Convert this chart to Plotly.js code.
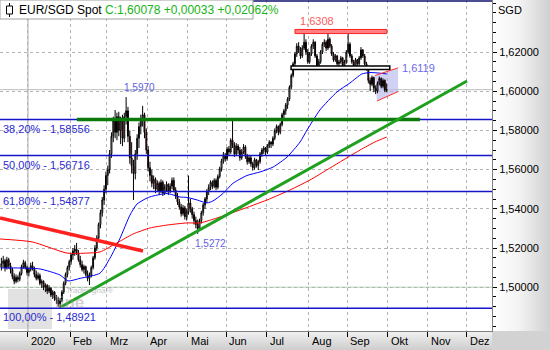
<!DOCTYPE html>
<html><head><meta charset="utf-8">
<script src="https://cdn.plot.ly/plotly-3.0.1.min.js"></script>
<style>
html,body{margin:0;padding:0;background:#fff;}
#wrap{position:relative;width:550px;height:350px;overflow:hidden;}
#rbg{position:absolute;left:492px;top:0;width:58px;height:331px;background:linear-gradient(to right,#ffffff 0%,#f4f4f4 45%,#d0d0d0 100%);}
#bbg{position:absolute;left:0;top:331px;width:550px;height:19px;background:linear-gradient(to bottom,#f2f2f2,#cdcdcd);}
#cbg{position:absolute;left:492px;top:331px;width:58px;height:19px;background:#d2d2d2;}
#chart{position:absolute;left:0;top:0;width:550px;height:350px;}
</style></head>
<body>
<div id="wrap"><div id="rbg"></div><div id="bbg"></div><div id="cbg"></div><div id="chart"></div></div>
<script>
// ---------- DATA ----------
const titleText = 'EUR/SGD Spot';
const titleQuote = 'C:1,60078 +0,00033 +0,02062%';
const firstIdx = -15; // trading-day index of first candle (0 = 1 Jan 2020)
const open = [
1.5100,1.5120,1.5135,1.5100,1.5140,1.5110,1.5090,1.5055,1.5030,1.5050,1.5040,1.5070,1.5105,1.5125,1.5100,
1.5075,1.5090,1.5110,1.5095,1.5065,1.5045,1.5060,1.5020,1.5030,1.5000,
1.5010,1.4980,1.4995,1.4960,1.4975,1.4945,1.4935,1.4915,1.4930,1.4975,
1.5020,1.5065,1.5100,1.5130,1.5165,1.5185,1.5195,1.5175,1.5140,1.5115,
1.5090,1.5105,1.5065,1.5045,1.5060,1.5100,1.5150,1.5200,1.5250,1.5320,
1.5380,1.5445,1.5500,1.5570,1.5600,1.5680,1.5770,1.5850,1.5790,1.5870,
1.5800,1.5850,1.5760,1.5870,1.5900,1.5770,1.5660,1.5620,1.5580,1.5680,
1.5760,1.5820,1.5860,1.5880,1.5790,1.5700,1.5610,1.5570,1.5530,1.5550,
1.5500,1.5530,1.5490,1.5535,1.5480,1.5510,1.5525,1.5490,1.5515,1.5545,
1.5495,1.5465,1.5435,1.5410,1.5375,1.5405,1.5360,1.5385,1.5430,1.5400,
1.5370,1.5340,1.5320,1.5300,1.5340,1.5380,1.5420,1.5450,1.5490,1.5510,
1.5535,1.5515,1.5545,1.5510,1.5565,1.5605,1.5645,1.5675,1.5655,1.5705,
1.5690,1.5750,1.5725,1.5680,1.5720,1.5700,1.5660,1.5690,1.5715,1.5670,
1.5640,1.5660,1.5630,1.5610,1.5650,1.5620,1.5640,1.5680,1.5700,1.5710,
1.5690,1.5720,1.5740,1.5730,1.5760,1.5800,1.5820,1.5790,1.5830,1.5880,
1.5900,1.5930,1.5960,1.6020,1.6080,1.6140,1.6190,1.6230,1.6210,1.6180,
1.6220,1.6250,1.6200,1.6150,1.6190,1.6230,1.6250,1.6180,1.6130,1.6150,
1.6200,1.6240,1.6250,1.6220,1.6265,1.6230,1.6190,1.6160,1.6180,1.6140,
1.6150,1.6170,1.6130,1.6150,1.6200,1.6240,1.6180,1.6150,1.6130,1.6160,
1.6140,1.6170,1.6210,1.6180,1.6140,1.6120,1.6055,1.6035,1.6070,1.6015,
1.6000,1.6040,1.6065,1.6025,1.6055,1.6005];
const high = [
1.5150,1.5160,1.5145,1.5155,1.5150,1.5125,1.5100,1.5070,1.5065,1.5060,1.5080,1.5115,1.5140,1.5135,1.5110,
1.5100,1.5125,1.5130,1.5105,1.5085,1.5075,1.5070,1.5040,1.5035,1.5020,
1.5015,1.5010,1.5000,1.4985,1.4980,1.4960,1.4950,1.4945,1.4985,1.5030,
1.5075,1.5110,1.5140,1.5175,1.5200,1.5215,1.5226,1.5190,1.5160,1.5135,
1.5115,1.5110,1.5085,1.5075,1.5110,1.5160,1.5215,1.5265,1.5330,1.5395,
1.5460,1.5520,1.5590,1.5620,1.5700,1.5790,1.5870,1.5904,1.5890,1.5895,
1.5870,1.5880,1.5890,1.5970,1.5920,1.5800,1.5740,1.5650,1.5700,1.5780,
1.5840,1.5880,1.5925,1.5890,1.5810,1.5720,1.5640,1.5600,1.5570,1.5560,
1.5545,1.5540,1.5550,1.5545,1.5525,1.5540,1.5530,1.5530,1.5560,1.5560,
1.5510,1.5480,1.5450,1.5425,1.5420,1.5415,1.5400,1.5570,1.5450,1.5410,
1.5385,1.5360,1.5345,1.5350,1.5390,1.5430,1.5460,1.5500,1.5525,1.5545,
1.5545,1.5555,1.5555,1.5575,1.5615,1.5655,1.5690,1.5685,1.5715,1.5720,
1.5760,1.5860,1.5740,1.5735,1.5730,1.5715,1.5705,1.5730,1.5725,1.5680,
1.5675,1.5670,1.5640,1.5660,1.5655,1.5650,1.5690,1.5710,1.5720,1.5715,
1.5730,1.5750,1.5745,1.5770,1.5810,1.5830,1.5825,1.5840,1.5890,1.5910,
1.5940,1.5970,1.6030,1.6090,1.6150,1.6200,1.6245,1.6250,1.6225,1.6235,
1.6297,1.6265,1.6215,1.6200,1.6240,1.6265,1.6255,1.6190,1.6165,1.6210,
1.6250,1.6265,1.6260,1.6308,1.6275,1.6240,1.6200,1.6190,1.6185,1.6160,
1.6180,1.6175,1.6160,1.6210,1.6297,1.6250,1.6190,1.6160,1.6170,1.6165,
1.6180,1.6225,1.6215,1.6190,1.6150,1.6125,1.6070,1.6080,1.6075,1.6030,
1.6050,1.6075,1.6070,1.6065,1.6060,1.6040];
const low = [
1.5085,1.5100,1.5080,1.5090,1.5095,1.5070,1.5040,1.5015,1.5020,1.5025,1.5030,1.5060,1.5095,1.5090,1.5060,
1.5055,1.5080,1.5085,1.5050,1.5035,1.5035,1.5010,1.4995,1.4985,1.4975,
1.4965,1.4970,1.4950,1.4940,1.4930,1.4915,1.4900,1.4892,1.4925,1.4965,
1.5010,1.5050,1.5085,1.5115,1.5140,1.5160,1.5165,1.5130,1.5100,1.5080,
1.5070,1.5055,1.5030,1.5011,1.5050,1.5090,1.5140,1.5185,1.5240,1.5300,
1.5360,1.5420,1.5480,1.5520,1.5580,1.5660,1.5740,1.5760,1.5750,1.5770,
1.5730,1.5720,1.5740,1.5830,1.5740,1.5630,1.5580,1.5445,1.5550,1.5650,
1.5710,1.5780,1.5820,1.5760,1.5680,1.5590,1.5540,1.5510,1.5500,1.5480,
1.5490,1.5470,1.5480,1.5465,1.5470,1.5485,1.5470,1.5480,1.5500,1.5485,
1.5450,1.5420,1.5395,1.5360,1.5365,1.5345,1.5340,1.5370,1.5380,1.5350,
1.5320,1.5300,1.5272,1.5290,1.5325,1.5365,1.5400,1.5430,1.5470,1.5495,
1.5500,1.5505,1.5495,1.5500,1.5555,1.5590,1.5630,1.5640,1.5645,1.5670,
1.5680,1.5710,1.5665,1.5670,1.5680,1.5645,1.5650,1.5680,1.5655,1.5625,
1.5630,1.5615,1.5595,1.5600,1.5610,1.5598,1.5630,1.5665,1.5680,1.5670,
1.5680,1.5710,1.5710,1.5720,1.5750,1.5785,1.5775,1.5780,1.5820,1.5860,
1.5880,1.5910,1.5950,1.6010,1.6070,1.6120,1.6175,1.6195,1.6165,1.6170,
1.6210,1.6185,1.6140,1.6140,1.6180,1.6215,1.6170,1.6115,1.6120,1.6140,
1.6190,1.6225,1.6205,1.6210,1.6220,1.6180,1.6150,1.6150,1.6130,1.6125,
1.6140,1.6120,1.6115,1.6140,1.6190,1.6170,1.6140,1.6115,1.6120,1.6125,
1.6130,1.6160,1.6170,1.6130,1.6105,1.6040,1.6000,1.6025,1.5995,1.5985,
1.5990,1.6030,1.6015,1.6015,1.5995,1.5995];
const close = [
1.5120,1.5135,1.5100,1.5140,1.5110,1.5090,1.5055,1.5030,1.5050,1.5040,1.5070,1.5105,1.5125,1.5100,1.5075,
1.5090,1.5110,1.5095,1.5065,1.5045,1.5060,1.5020,1.5030,1.5000,1.5010,
1.4980,1.4995,1.4960,1.4975,1.4945,1.4935,1.4915,1.4930,1.4975,1.5020,
1.5065,1.5100,1.5130,1.5165,1.5185,1.5195,1.5175,1.5140,1.5115,1.5090,
1.5105,1.5065,1.5045,1.5060,1.5100,1.5150,1.5200,1.5250,1.5320,1.5380,
1.5445,1.5500,1.5570,1.5600,1.5680,1.5770,1.5850,1.5790,1.5870,1.5800,
1.5850,1.5760,1.5870,1.5900,1.5770,1.5660,1.5620,1.5580,1.5680,1.5760,
1.5820,1.5860,1.5880,1.5790,1.5700,1.5610,1.5570,1.5530,1.5550,1.5500,
1.5530,1.5490,1.5535,1.5480,1.5510,1.5525,1.5490,1.5515,1.5545,1.5495,
1.5465,1.5435,1.5410,1.5375,1.5405,1.5360,1.5385,1.5430,1.5400,1.5370,
1.5340,1.5320,1.5300,1.5340,1.5380,1.5420,1.5450,1.5490,1.5510,1.5535,
1.5515,1.5545,1.5510,1.5565,1.5605,1.5645,1.5675,1.5655,1.5705,1.5690,
1.5750,1.5725,1.5680,1.5720,1.5700,1.5660,1.5690,1.5715,1.5670,1.5640,
1.5660,1.5630,1.5610,1.5650,1.5620,1.5640,1.5680,1.5700,1.5710,1.5690,
1.5720,1.5740,1.5730,1.5760,1.5800,1.5820,1.5790,1.5830,1.5880,1.5900,
1.5930,1.5960,1.6020,1.6080,1.6140,1.6190,1.6230,1.6210,1.6180,1.6220,
1.6250,1.6200,1.6150,1.6190,1.6230,1.6250,1.6180,1.6130,1.6150,1.6200,
1.6240,1.6250,1.6220,1.6265,1.6230,1.6190,1.6160,1.6180,1.6140,1.6150,
1.6170,1.6130,1.6150,1.6200,1.6240,1.6180,1.6150,1.6130,1.6160,1.6140,
1.6170,1.6210,1.6180,1.6140,1.6120,1.6055,1.6035,1.6070,1.6015,1.6000,
1.6040,1.6065,1.6025,1.6055,1.6005,1.6008];

// moving averages (trading-day index, value)
const blueMaIdx = [-15.2,-4.8,6.1,17.0,21.3,27.9,38.8,44.2,49.7,55.1,58.9,64.4,67.6,75.3,82.4,86.2,91.7,97.1,100.3,105.8,111.2,118.9,126.0,133.1,140.7,147.8,151.6,158.6,167.9,175.0,181.5,185.9,191.4,195.0];
const blueMaVal = [1.5098,1.5098,1.5093,1.5062,1.5032,1.5045,1.5072,1.5148,1.5250,1.5368,1.5424,1.5455,1.5465,1.5478,1.5460,1.5458,1.5445,1.5430,1.5440,1.5478,1.5530,1.5570,1.5588,1.5613,1.5664,1.5741,1.5802,1.5904,1.5996,1.6042,1.6088,1.6095,1.6092,1.6088];
const redMaIdx = [-15.7,1.8,20.8,31.7,38.8,48.0,56.7,66.0,75.3,86.2,93.3,104.1,115.1,129.8,142.3,153.2,164.1,180.5,188.6,195.0];
const redMaVal = [1.5246,1.5231,1.5174,1.5174,1.5180,1.5226,1.5271,1.5302,1.5317,1.5328,1.5328,1.5358,1.5394,1.5445,1.5496,1.5547,1.5608,1.5700,1.5741,1.5766];

// month starts (trading-day index) and labels
const monthIdx = [0,23,43,65,87,108,130,153,174,196,218,239];
const monthLabels = ['2020','Feb','Mrz','Apr','Mai','Jun','Jul','Aug','Sep','Okt','Nov','Dez'];
const yTicks = [1.50,1.52,1.54,1.56,1.58,1.60,1.62];

// Fibonacci retracements
const fibPct = [38.2, 50, 61.8, 100];
const fibLevel = [1.58556, 1.56716, 1.54877, 1.48921];

// drawn analysis objects (data coordinates)
const trendRedX = [-15.74, 62.2], trendRedY = [1.5353, 1.5185];
const trendGreenX = [17.5, 238.8], trendGreenY = [1.4899, 1.6052];
const supportGreenX = [26.2, 213.1], supportGreenY = 1.58556;
const resistBoxX = [145.0, 195.1], resistBoxY = [1.6294, 1.6315];
const supportBoxX = [142.9, 196.7], supportBoxY = [1.6111, 1.6129];
const flagUpperX = [188.6, 201.2], flagUpperY = [1.6080, 1.6119];
const flagLowerX = [189.7, 201.2], flagLowerY = [1.5950, 1.5998];
const markHighIdx = 53, markLowIdx = 92;
const lastPrice = 1.60078;
const baseLine = 1.50;

// ---------- DRAW ----------
const FONT = '"Liberation Sans", Arial, sans-serif';
const xs = close.map((_, i) => firstIdx + i);
const comma = (v, d) => v.toFixed(d).replace('.', ',');
const PW = 492, PH = 331;
const px = x => x / PW, py = y => 1 - y / PH;

const traces = [
  {type:'candlestick', x:xs, open:open, high:high, low:low, close:close,
   increasing:{line:{color:'#000000', width:1}, fillcolor:'#ffffff'},
   decreasing:{line:{color:'#000000', width:1}, fillcolor:'#ff0000'},
   whiskerwidth:0, hoverinfo:'skip', showlegend:false},
  {type:'scatter', mode:'lines', x:blueMaIdx, y:blueMaVal, line:{color:'#0000ff', width:1, shape:'spline', smoothing:0.6}, hoverinfo:'skip'},
  {type:'scatter', mode:'lines', x:redMaIdx, y:redMaVal, line:{color:'#ff0000', width:1, shape:'spline', smoothing:0.6}, hoverinfo:'skip'}
];

const shapes = [];
// watermark
shapes.push({type:'rect', xref:'paper', yref:'paper', x0:px(8), x1:px(52), y0:py(329), y1:py(289), fillcolor:'rgba(150,150,150,0.28)', line:{width:0}, layer:'below'});
// year separator
shapes.push({type:'line', xref:'x', yref:'paper', x0:monthIdx[0]-0.5, x1:monthIdx[0]-0.5, y0:0, y1:1, line:{color:'#a8a8a8', width:1}, layer:'below'});
// base line 1.50 and last price line
shapes.push({type:'line', xref:'paper', yref:'y', x0:0, x1:1, y0:baseLine, y1:baseLine, line:{color:'#b0d4b0', width:1}, layer:'below'});
shapes.push({type:'line', xref:'paper', yref:'y', x0:0, x1:1, y0:lastPrice, y1:lastPrice, line:{color:'#b8c0b8', width:1}, layer:'below'});
// flag fill
shapes.push({type:'path', xref:'x', yref:'y', layer:'below',
  path:`M ${flagUpperX[0]},${flagUpperY[0]} L ${flagUpperX[1]},${flagUpperY[1]} L ${flagLowerX[1]},${flagLowerY[1]} L ${flagLowerX[0]},${flagLowerY[0]} Z`,
  fillcolor:'rgba(185,185,240,0.65)', line:{width:0}});
// fib lines
fibLevel.forEach(v => shapes.push({type:'line', xref:'paper', yref:'y', x0:0, x1:1, y0:v, y1:v, line:{color:'#1414c8', width:1.5}}));
// support green horizontal
shapes.push({type:'line', xref:'x', yref:'y', x0:supportGreenX[0], x1:supportGreenX[1], y0:supportGreenY, y1:supportGreenY, line:{color:'#0a7a0a', width:3.5}});
// trend lines
shapes.push({type:'line', xref:'x', yref:'y', x0:trendRedX[0], x1:trendRedX[1], y0:trendRedY[0], y1:trendRedY[1], line:{color:'#ff2020', width:3.5}});
shapes.push({type:'line', xref:'x', yref:'y', x0:trendGreenX[0], x1:trendGreenX[1], y0:trendGreenY[0], y1:trendGreenY[1], line:{color:'#20a020', width:3}});
// boxes
shapes.push({type:'rect', xref:'x', yref:'y', x0:resistBoxX[0], x1:resistBoxX[1], y0:resistBoxY[0], y1:resistBoxY[1], fillcolor:'#ff8080', line:{color:'#ff2020', width:1}});
shapes.push({type:'rect', xref:'x', yref:'y', x0:supportBoxX[0], x1:supportBoxX[1], y0:supportBoxY[0], y1:supportBoxY[1], fillcolor:'#ffffff', line:{color:'#000000', width:1.5}});
// flag edges
shapes.push({type:'line', xref:'x', yref:'y', x0:flagUpperX[0], x1:flagUpperX[1], y0:flagUpperY[0], y1:flagUpperY[1], line:{color:'#ff3030', width:1}});
shapes.push({type:'line', xref:'x', yref:'y', x0:flagLowerX[0], x1:flagLowerX[1], y0:flagLowerY[0], y1:flagLowerY[1], line:{color:'#ff3030', width:1}});
// top border
shapes.push({type:'line', xref:'paper', yref:'paper', x0:0, x1:1, y0:py(1), y1:py(1), line:{color:'#10106e', width:1.5}});
// title box + icon
shapes.push({type:'rect', xref:'paper', yref:'paper', x0:px(0), x1:px(253), y0:py(19), y1:py(0), fillcolor:'#ffffff', line:{color:'#a0a0a0', width:1}});
shapes.push({type:'line', xref:'paper', yref:'paper', x0:px(9.5), x1:px(9.5), y0:py(17), y1:py(3), line:{color:'#000', width:1}});
shapes.push({type:'rect', xref:'paper', yref:'paper', x0:px(6.5), x1:px(12.5), y0:py(14), y1:py(6), fillcolor:'#ffffff', line:{color:'#000', width:1}});

const annotations = [];
// watermark texts (faint logo, kept clear of the 100% label)
annotations.push({xref:'paper', yref:'paper', x:px(53), y:py(302), xanchor:'left', yanchor:'middle', text:'<b>line</b>', showarrow:false, font:{family:FONT, size:17, color:'rgba(150,150,150,0.45)'}});
annotations.push({xref:'paper', yref:'paper', x:px(64), y:py(290), xanchor:'left', yanchor:'middle', text:'<i>Tradesignal®</i>', showarrow:false, font:{family:FONT, size:8, color:'rgba(150,150,150,0.6)'}});
// fib labels
fibLevel.forEach((v, i) => annotations.push({xref:'paper', yref:'y', x:px(1), y:v, xanchor:'left', yanchor:'top', yshift:-1,
  text: comma(fibPct[i], 2) + '% - ' + comma(v, 5), showarrow:false, font:{family:FONT, size:11, color:'#2a2ad2'}}));
// price marks
annotations.push({xref:'x', yref:'y', x:markHighIdx, y:high[markHighIdx-firstIdx], xanchor:'left', yanchor:'bottom', xshift:-4, yshift:2,
  text: comma(high[markHighIdx-firstIdx], 4), showarrow:false, font:{family:FONT, size:10, color:'#6060e6'}});
annotations.push({xref:'x', yref:'y', x:markLowIdx, y:low[markLowIdx-firstIdx], xanchor:'left', yanchor:'top', xshift:-5, yshift:-2,
  text: comma(low[markLowIdx-firstIdx], 4), showarrow:false, font:{family:FONT, size:10, color:'#6060e6'}});
annotations.push({xref:'x', yref:'y', x:flagUpperX[1], y:flagUpperY[1], xanchor:'left', yanchor:'middle', xshift:2,
  text: comma(flagUpperY[1], 4), showarrow:false, font:{family:FONT, size:11, color:'#6a6ae8'}});
const maxHigh = Math.max(...high);
annotations.push({xref:'x', yref:'y', x:resistBoxX[0], y:resistBoxY[1], xanchor:'left', yanchor:'bottom', xshift:3, yshift:0,
  text: comma(maxHigh, 4), showarrow:false, font:{family:FONT, size:11, color:'#ff5a5a'}});
// month labels
monthIdx.forEach((m, i) => annotations.push({xref:'x', yref:'paper', x:m-0.5, y:py(341), xanchor:'left', yanchor:'middle', xshift:1,
  text: monthLabels[i], showarrow:false, font:{family:FONT, size:11, color:'#000'}}));
// currency
annotations.push({xref:'paper', yref:'paper', x:px(496), y:py(10), xanchor:'left', yanchor:'middle', text:'SGD', showarrow:false, font:{family:FONT, size:11, color:'#000'}});
// title
annotations.push({xref:'paper', yref:'paper', x:px(17), y:py(10), xanchor:'left', yanchor:'middle', showarrow:false,
  text: titleText + ' <span style="color:#14b414">' + titleQuote + '</span>', font:{family:FONT, size:12, color:'#000'}});

const layout = {
  width:550, height:350,
  margin:{l:0, r:58, t:0, b:19, pad:0},
  paper_bgcolor:'rgba(0,0,0,0)', plot_bgcolor:'#ffffff',
  separators:',.', showlegend:false,
  font:{family:FONT, size:11, color:'#000'},
  xaxis:{range:[-15.74, 252.4], tickmode:'array', tickvals:monthIdx.map(m => m-0.5), showticklabels:false,
    ticks:'outside', ticklen:5, tickcolor:'#000', tickwidth:1,
    showgrid:true, gridcolor:'#b4b4b4', griddash:'dot', gridwidth:1, zeroline:false,
    showline:true, linecolor:'#808080', linewidth:1, mirror:true, rangeslider:{visible:false}, fixedrange:true},
  yaxis:{side:'right', range:[1.47765, 1.64653], tickmode:'array', tickvals:yTicks, ticktext:yTicks.map(v => comma(v, 5)),
    ticks:'outside', ticklen:4, tickcolor:'#000', tickwidth:1,
    minor:{tickmode:'linear', tick0:1.50, dtick:0.005, ticks:'outside', ticklen:3, tickcolor:'#000', showgrid:false},
    showgrid:true, gridcolor:'#b4b4b4', griddash:'dot', gridwidth:1, zeroline:false,
    showline:true, linecolor:'#808080', linewidth:1, mirror:true, tickfont:{family:FONT, size:11, color:'#000'}, fixedrange:true},
  shapes:shapes, annotations:annotations
};

Plotly.newPlot('chart', traces, layout, {displayModeBar:false, staticPlot:true});
</script>
</body></html>
